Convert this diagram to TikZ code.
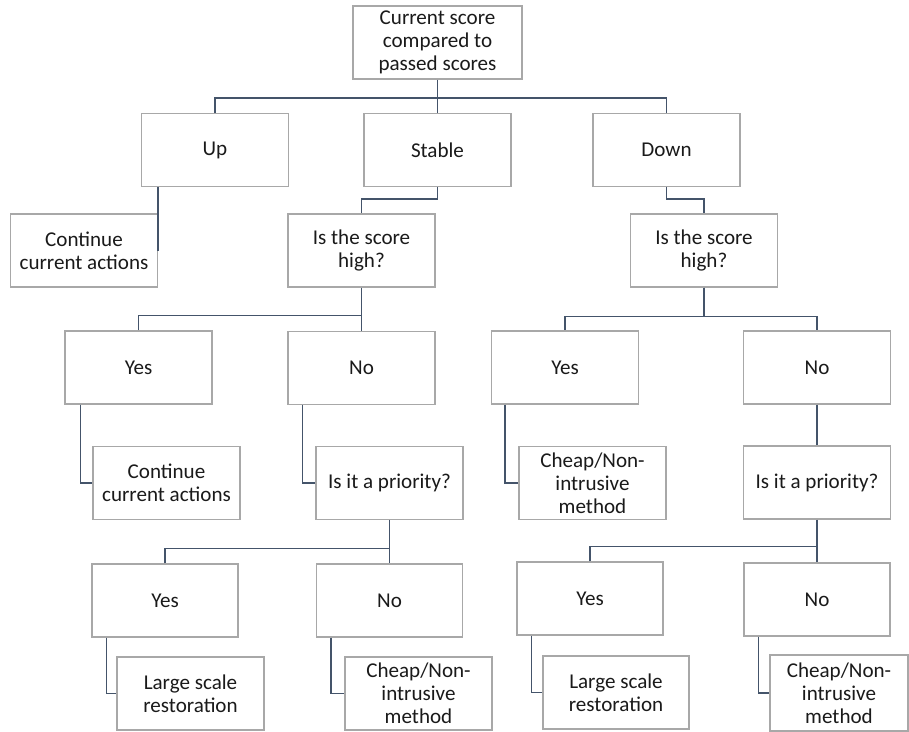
\documentclass[tikz,border=0pt]{standalone}
\usepackage{fontspec}
\setmainfont{Carlito}
\usetikzlibrary{positioning,calc}
\definecolor{boxgray}{HTML}{A8A8A8}
\definecolor{slate}{HTML}{44546A}
\definecolor{ink}{HTML}{1A1A1A}
\tikzset{
  box/.style={draw=boxgray,fill=white,line width=0.6pt,minimum width=2.94cm,minimum height=1.46cm,inner sep=1pt,align=center,font=\fontsize{12}{13.2}\selectfont,text=ink},
  conn/.style={draw=slate,line width=1.1pt}
}

\begin{document}
\begin{tikzpicture}[x=0.02cm,y=-0.02cm]
\useasboundingbox (0,0) rectangle (909,731);

% level 0 and 1
\node[box,minimum width=3.38cm] (root) at (437.5,42.5) {Current score\\compared to\\passed scores};
\node[box] (up) at (215,150) {Up};
\node[box] (stable) at (437.5,150) {Stable};
\node[box] (down) at (666.5,150) {Down};
\draw[conn] (root.south) -- (stable.north);
\draw[conn] (up.north) -- ++(0,-15) -| (down.north);

% level 2
\node[box] (contU) at (84,250.5) {Continue\\current actions};
\node[box] (highL) at (361.5,250.5) {Is the score\\high?};
\node[box] (highR) at (704,250.5) {Is the score\\high?};
\draw[conn] (contU.east |- up.south) -- (contU.east);
\draw[conn] (stable.south) -- ++(0,12) -| (highL.north);
\draw[conn] (down.south) -- ++(0,12) -| (highR.north);

% level 3
\node[box] (yesL) at (138.5,367.5) {Yes};
\node[box] (noL) at (361.5,368) {No};
\node[box] (yesR) at (565,367.5) {Yes};
\node[box] (noR) at (817,367.5) {No};
\draw[conn] (highL.south) -- (noL.north); \draw[conn] (yesL.north) -- ++(0,-15) -| (highL.south);
\draw[conn] (highR.south) -- ++(0,29) -| (yesR.north); \draw[conn] (highR.south) -- ++(0,29) -| (noR.north);

% level 4
\node[box] (contL) at (166.5,483) {Continue\\current actions};
\node[box] (prioL) at (389.5,483) {Is it a priority?};
\node[box] (cheapR) at (592.5,483) {Cheap/Non-\\intrusive\\method};
\node[box] (prioR) at (817,482.5) {Is it a priority?};
\draw[conn] ($(yesL.south west)+(16,0)$) |- (contL.west);
\draw[conn] ($(noL.south west)+(15,0)$) |- (prioL.west);
\draw[conn] ($(yesR.south west)+(14,0)$) |- (cheapR.west);
\draw[conn] (noR.south) -- (prioR.north);

% level 5
\node[box,minimum width=2.92cm] (yesLL) at (165,600.5) {Yes};
\node[box,minimum width=2.92cm] (noLL) at (389.5,600.5) {No};
\node[box,minimum width=2.92cm] (yesRR) at (590,598.5) {Yes};
\node[box,minimum width=2.92cm] (noRR) at (817,599.5) {No};
\draw[conn] (prioL.south) -- (noLL.north); \draw[conn] (yesLL.north) -- ++(0,-15) -| (prioL.south);
\draw[conn] (prioR.south) -- (noRR.north); \draw[conn] (yesRR.north) -- ++(0,-15) -| (prioR.south);

% level 6
\node[box] (largeL) at (190.5,693.5) {Large scale\\restoration};
\node[box] (cheapL) at (418.5,693.5) {Cheap/Non-\\intrusive\\method};
\node[box,minimum width=2.92cm] (largeR) at (616,692.5) {Large scale\\restoration};
\node[box,minimum width=2.76cm,minimum height=1.52cm] (cheapRR) at (839,693) {Cheap/Non-\\intrusive\\method};
\draw[conn] ($(yesLL.south west)+(15,0)$) |- (largeL.west);
\draw[conn] ($(noLL.south west)+(15,0)$) |- (cheapL.west);
\draw[conn] ($(yesRR.south west)+(15,0)$) |- (largeR.west);
\draw[conn] ($(noRR.south west)+(15,0)$) |- (cheapRR.west);
\end{tikzpicture}
\end{document}
